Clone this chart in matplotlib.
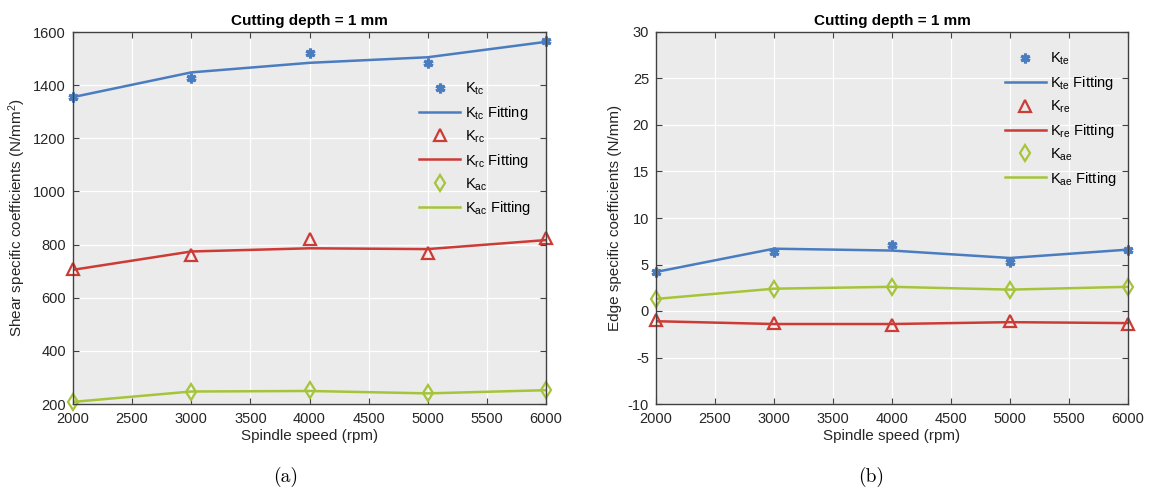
import numpy as np
import matplotlib
matplotlib.use('Agg')
import matplotlib.pyplot as plt

plt.rcParams['font.family'] = ['Liberation Sans', 'DejaVu Sans']
plt.rcParams['mathtext.fontset'] = 'custom'
plt.rcParams['mathtext.rm'] = 'Liberation Sans'
plt.rcParams['mathtext.it'] = 'Liberation Sans:italic'
plt.rcParams['axes.unicode_minus'] = False
plt.rcParams['font.size'] = 10.5

# data
speed = [2000, 3000, 4000, 5000, 6000]

ktc = [1357, 1425, 1522, 1482, 1565]
ktc_fit = [1355, 1448, 1484, 1505, 1563]
krc = [707, 762, 820, 767, 823]
krc_fit = [705, 774, 786, 783, 817]
kac = [209, 247, 253, 240, 253]
kac_fit = [208, 247, 249, 240, 252]

kte = [4.2, 6.3, 7.1, 5.3, 6.6]
kte_fit = [4.2, 6.7, 6.5, 5.7, 6.6]
kre = [-1.0, -1.3, -1.5, -1.1, -1.4]
kre_fit = [-1.1, -1.4, -1.4, -1.2, -1.3]
kae = [1.3, 2.4, 2.6, 2.3, 2.6]
kae_fit = [1.3, 2.4, 2.6, 2.3, 2.6]

blue = '#4A7CC0'
red = '#CC3B35'
green = '#A6C43A'

fig = plt.figure(figsize=(11.5, 4.9), dpi=100)
ax1 = fig.add_axes([73/1150, 1-404/490, 473/1150, 372/490])
ax2 = fig.add_axes([656/1150, 1-404/490, 472/1150, 372/490])


def style(ax):
    ax.set_facecolor('#EBEBEB')
    ax.grid(True, color='white', linewidth=0.9)
    ax.set_axisbelow(True)
    for s in ax.spines.values():
        s.set_color('#404040')
        s.set_linewidth(1.0)
    ax.tick_params(direction='in', top=True, right=True, length=4,
                   color='#404040', labelcolor='#262626', labelsize=10.5)
    ax.tick_params(axis='x', pad=6)
    ax.tick_params(axis='y', pad=5)
    ax.set_xlim(2000, 6000)
    ax.set_xticks(np.arange(2000, 6001, 500))
    ax.set_xlabel('Spindle speed (rpm)', fontsize=11, color='#262626', labelpad=2)
    ax.set_title('Cutting depth = 1 mm', fontsize=11, fontweight='bold', pad=5)


def draw(ax, pts, fit, color, marker, name):
    lab = r'$\mathregular{K_{%s}}$' % name
    if marker == '*':
        ax.plot(speed, pts, linestyle='none', marker=(6, 2, 0), markersize=7,
                markeredgewidth=2.2, color=color, label=lab, clip_on=False)
    else:
        ax.plot(speed, pts, linestyle='none', marker=marker, markersize=8,
                markerfacecolor='none', markeredgewidth=1.6, color=color,
                label=lab, clip_on=False)
    ax.plot(speed, fit, color=color, linewidth=1.8,
            label=lab + ' Fitting')


style(ax1)
draw(ax1, ktc, ktc_fit, blue, '*', 'tc')
draw(ax1, krc, krc_fit, red, '^', 'rc')
draw(ax1, kac, kac_fit, green, 'd', 'ac')
ax1.set_ylim(200, 1600)
ax1.set_yticks(np.arange(200, 1601, 200))
ax1.set_ylabel(r'Shear specific coefficients (N/mm$^2$)', fontsize=11, color='#262626')
ax1.legend(loc='upper left', bbox_to_anchor=(0.72, 0.885), frameon=False,
           handlelength=2.8, handletextpad=0.3, labelspacing=0.46,
           fontsize=10.5, borderaxespad=0)

style(ax2)
draw(ax2, kte, kte_fit, blue, '*', 'te')
draw(ax2, kre, kre_fit, red, '^', 're')
draw(ax2, kae, kae_fit, green, 'd', 'ae')
ax2.set_ylim(-10, 30)
ax2.set_yticks(np.arange(-10, 31, 5))
ax2.set_ylabel('Edge specific coefficients (N/mm)', fontsize=11, color='#262626')
ax2.legend(loc='upper left', bbox_to_anchor=(0.727, 0.965), frameon=False,
           handlelength=2.8, handletextpad=0.3, labelspacing=0.46,
           fontsize=10.5, borderaxespad=0)

fig.text(286/1150, 1-477/490, '(a)', family='cmr10', fontsize=14, ha='center', va='center')
fig.text(871/1150, 1-477/490, '(b)', family='cmr10', fontsize=14, ha='center', va='center')

fig.savefig('out.png', dpi=100)
